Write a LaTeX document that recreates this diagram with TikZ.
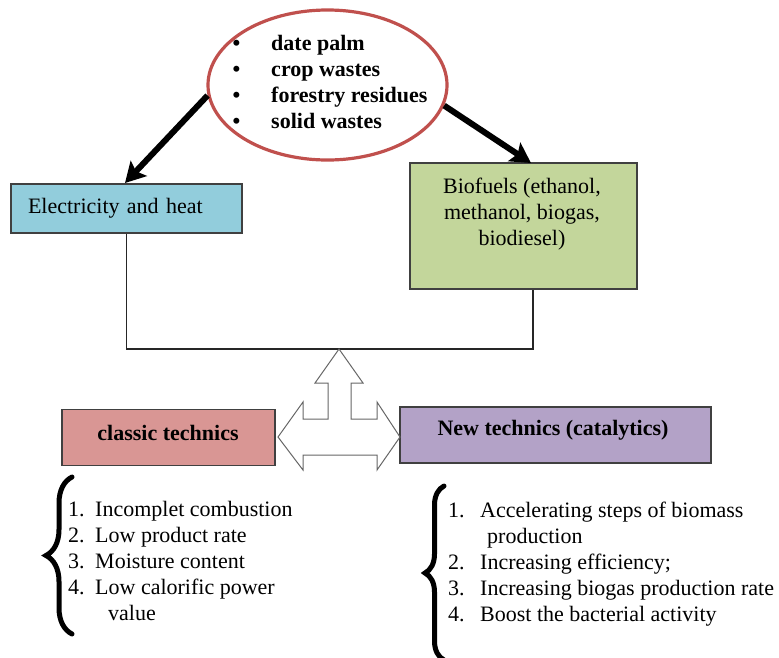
\documentclass[tikz,border=0pt]{standalone}
\usepackage{fontspec}
\setmainfont{Liberation Serif}
\usetikzlibrary{shapes.geometric,arrows.meta,decorations.pathreplacing}
\definecolor{ellred}{HTML}{C0504D}
\definecolor{elecblue}{HTML}{92CDDC}
\definecolor{biogreen}{HTML}{C3D69B}
\definecolor{classicpink}{HTML}{D99694}
\definecolor{newpurple}{HTML}{B3A2C7}
\begin{document}
\begin{tikzpicture}[x=1pt,y=-1pt,
  font=\fontsize{22}{26}\selectfont,
  box/.style={draw=black!75,line width=1.2pt,inner sep=0pt},
  bigarrow/.style={line width=6pt,-{Stealth[length=20pt,width=22pt,inset=4pt]}},
  conn/.style={line width=1.1pt,draw=black!85},
  bracestyle/.style={decorate,decoration={brace,amplitude=#1},line width=5pt,line cap=round},
]
\useasboundingbox (0,0) rectangle (779,657);

% source ellipse
\node[ellipse,draw=ellred,line width=3.2pt,fill=white,minimum width=239,minimum height=150,inner sep=0pt] (ell) at (327.5,85) {};
\node[inner sep=0pt] (elltxt) at (330,84)
  {\bfseries\begin{tabular}{@{}l@{\hspace{31pt}}l@{}}\textbullet & date palm\\ \textbullet & crop wastes\\ \textbullet & forestry residues\\ \textbullet & solid wastes\end{tabular}};

% output boxes
\node[box,fill=elecblue,minimum width=231,minimum height=49,text width=197,align=left] (elec) at (126.5,208.5) {Electricity and heat};
\node[box,fill=biogreen,minimum width=227,minimum height=126] (bio) at (523.5,226) {};
\node[align=center,inner sep=0pt] (biotxt) at (522,214) {Biofuels (ethanol,\\ methanol, biogas,\\ biodiesel)};

\coordinate (t1) at (125,183);
\coordinate (t2) at (531,163);
\draw[bigarrow] (ell.185) -- (t1);
\draw[bigarrow] (ell.350) -- (t2);

% join lines
\coordinate (hj) at (533,349);
\draw[conn] (elec.south) |- (hj) -- (hj |- bio.south);

% technics boxes
\node[box,fill=classicpink,minimum width=213,minimum height=56] (classic) at (168.5,437.5) {};
\node[font=\fontsize{22}{26}\selectfont\bfseries,inner sep=0pt] (classictxt) at (168,433) {classic technics};
\node[box,fill=newpurple,minimum width=311,minimum height=56] (new) at (555.5,435) {};
\node[font=\fontsize{22}{26}\selectfont\bfseries,inner sep=0pt] (newtxt) at (553,430) {New technics (catalytics)};

% three-way block arrow
\draw[draw=black!60,line width=1pt,fill=white,line join=miter]
  (339,349) -- (363,383) -- (351,383) -- (351,419) -- (377,419) -- (377,402)
  -- (400,437) -- (377,470) -- (377,455) -- (303,455) -- (303,470)
  -- (278,437) -- (303,402) -- (303,419) -- (328,419) -- (328,383)
  -- (315,383) -- cycle;

% braces
\coordinate (lb1) at (72,634);
\coordinate (lb2) at (72,477);
\draw[bracestyle=26pt] (lb1) -- (lb2);
\coordinate (rb1) at (444,660);
\coordinate (rb2) at (444,486);
\draw[bracestyle=19pt] (rb1) -- (rb2);

% lists
\node[anchor=base west,inner sep=0pt] (llist) at (68,516)
  {\begin{tabular}[t]{@{}l@{\hspace{10.5pt}}l@{}}
   1. & Incomplet combustion\\
   2. & Low product rate\\
   3. & Moisture content\\
   4. & Low calorific power\\
      & \hspace{13pt}value
   \end{tabular}};
\node[anchor=base west,inner sep=0pt] (rlist) at (448,517)
  {\begin{tabular}[t]{@{}l@{\hspace{15.5pt}}l@{}}
   1. & Accelerating steps of biomass\\
      & \hspace{7pt}production\\
   2. & Increasing efficiency;\\
   3. & Increasing biogas production rate\\
   4. & Boost the bacterial activity
   \end{tabular}};
\end{tikzpicture}
\end{document}
